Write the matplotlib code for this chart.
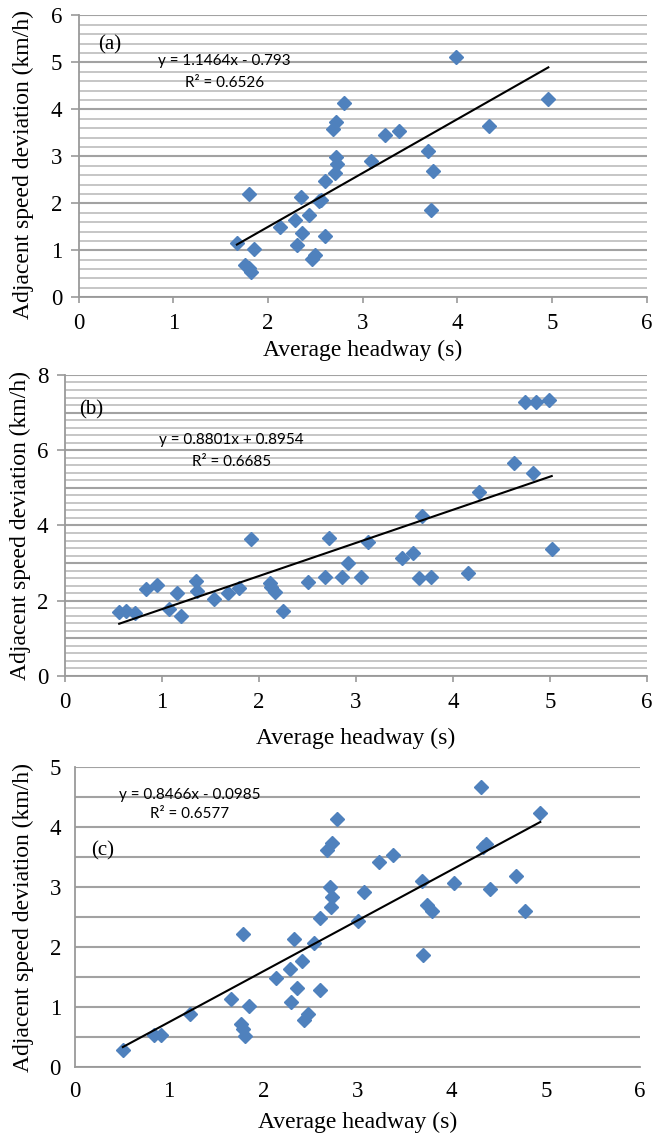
import matplotlib.pyplot as plt
import numpy as np

# panel (a)
a_x = [3.98, 4.96, 2.80, 2.72, 2.69, 4.33, 3.23, 3.38, 3.69, 2.72, 2.73, 2.71, 3.09, 3.74, 2.60, 1.80, 2.35,
       2.54, 2.56, 3.72, 2.43, 2.28, 2.13, 2.36, 2.60, 2.31, 1.67, 1.85, 2.50, 2.46, 1.76, 1.80, 1.82]
a_y = [5.11, 4.21, 4.14, 3.73, 3.59, 3.65, 3.45, 3.54, 3.11, 2.99, 2.83, 2.65, 2.90, 2.68, 2.47, 2.19, 2.14,
       2.04, 2.08, 1.86, 1.75, 1.64, 1.49, 1.36, 1.31, 1.11, 1.15, 1.02, 0.90, 0.81, 0.69, 0.62, 0.53]
a_fit = (1.1464, -0.793)
a_eq = ['y = 1.1464x - 0.793', 'R² = 0.6526']

# panel (b)
b_x = [4.74, 4.86, 4.99, 4.63, 4.83, 4.27, 3.68, 5.02, 3.59, 3.48, 3.13, 2.72, 1.92, 2.92, 3.05, 2.86, 2.68,
       3.65, 3.77, 4.16, 2.51, 2.11, 2.13, 2.17, 2.25, 1.80, 1.68, 1.54, 1.35, 1.36, 1.16, 1.20, 1.07, 0.95,
       0.84, 0.56, 0.63, 0.72]
b_y = [7.27, 7.27, 7.33, 5.67, 5.39, 4.88, 4.26, 3.37, 3.28, 3.13, 3.57, 3.66, 3.63, 2.99, 2.64, 2.64, 2.64,
       2.60, 2.62, 2.73, 2.51, 2.46, 2.37, 2.24, 1.73, 2.33, 2.20, 2.04, 2.53, 2.27, 2.21, 1.59, 1.77, 2.42,
       2.31, 1.71, 1.73, 1.68]
b_fit = (0.8801, 0.8954)
b_eq = ['y = 0.8801x + 0.8954', 'R² = 0.6685']

# panel (c)
c_x = [4.31, 4.94, 2.78, 2.73, 2.68, 4.33, 4.36, 3.23, 3.38, 3.68, 2.71, 2.73, 2.72, 3.07, 3.74, 3.79, 2.60,
       1.79, 2.33, 2.54, 3.70, 2.41, 2.28, 2.13, 2.36, 2.60, 2.29, 1.66, 1.85, 2.48, 2.43, 1.76, 1.79, 1.81,
       0.51, 0.84, 0.92, 1.22, 3.01, 4.02, 4.68, 4.41, 4.78]
c_y = [4.67, 4.23, 4.14, 3.74, 3.61, 3.66, 3.71, 3.42, 3.53, 3.10, 3.00, 2.84, 2.66, 2.92, 2.70, 2.60, 2.49,
       2.22, 2.14, 2.07, 1.86, 1.76, 1.64, 1.49, 1.32, 1.29, 1.09, 1.13, 1.01, 0.89, 0.79, 0.71, 0.63, 0.52,
       0.29, 0.53, 0.54, 0.89, 2.43, 3.07, 3.18, 2.96, 2.60]
c_fit = (0.8466, -0.0985)
c_eq = ['y = 0.8466x - 0.0985', 'R² = 0.6577']

xlabel = 'Average headway (s)'
ylabel = 'Adjacent speed deviation (km/h)'

serif = 'Liberation Serif'
sans = ['Lato', 'DejaVu Sans']
blue = '#4F81BD'

fig = plt.figure(figsize=(6.62, 11.39), dpi=100)


def panel(rect, xs, ys, fit, eq, tag, ymax, ystep, grid_major, grid_minor,
          eq_pos, tag_pos, ylab_xy, xlab_pad, ticks=True):
    ax = fig.add_axes(rect)
    ax.set_xlim(0, 6)
    ax.set_ylim(0, ymax)
    ax.set_xticks(range(0, 7))
    ax.set_yticks(np.arange(0, ymax + 0.01, ystep))
    # grid lines, minor first then the darker major ones
    if grid_minor:
        for v in np.arange(0, ymax + 0.01, grid_minor):
            ax.axhline(v, color='#c6c6c6', lw=1.4, zorder=0)
    for v in np.arange(0, ymax + 0.01, grid_major):
        ax.axhline(v, color='#a2a2a2', lw=1.5, zorder=0)
    for s in ['top', 'right']:
        ax.spines[s].set_visible(False)
    for s in ['left', 'bottom']:
        ax.spines[s].set_color('#9a9a9a')
        ax.spines[s].set_linewidth(1.3)
    if ticks:
        ax.tick_params(axis='x', length=4.5, width=1.2, color='#9a9a9a', pad=7)
        ax.tick_params(axis='y', length=6, width=1.2, color='#9a9a9a', pad=6)
    else:
        ax.tick_params(length=0, pad=10)
    for lab in ax.get_xticklabels() + ax.get_yticklabels():
        lab.set_fontfamily(serif)
        lab.set_fontsize(16.5)

    ax.plot(xs, ys, 'D', color=blue, ms=7, mec=blue, zorder=3)
    xx = np.array([min(xs), max(xs)])
    ax.plot(xx, fit[0] * xx + fit[1], color='black', lw=1.5, zorder=4)

    ax.text(eq_pos[0], eq_pos[1], eq[0], family=sans, fontsize=11, ha='center', va='center')
    ax.text(eq_pos[0], eq_pos[2], eq[1], family=sans, fontsize=11, ha='center', va='center')
    ax.text(tag_pos[0], tag_pos[1], tag, family=serif, fontsize=15, ha='center', va='center')

    ax.set_xlabel(xlabel, family=serif, fontsize=17, labelpad=xlab_pad)
    ax.set_ylabel(ylabel, family=serif, fontsize=17)
    ax.yaxis.set_label_coords(*ylab_xy)
    return ax


panel([0.119, 0.739, 0.858, 0.2475], a_x, a_y, a_fit, a_eq, '(a)', 6, 1, 1, 0.2,
      (1.54, 5.02, 4.57), (0.33, 5.38), (-0.078, 0.47), 4)
panel([0.098, 0.4065, 0.879, 0.2643], b_x, b_y, b_fit, b_eq, '(b)', 8, 2, 1, 0.2,
      (1.72, 6.27, 5.7), (0.27, 7.07), (-0.058, 0.5), 11)
panel([0.113, 0.0632, 0.854, 0.2634], c_x, c_y, c_fit, c_eq, '(c)', 5, 1, 0.5, None,
      (1.22, 4.54, 4.21), (0.3, 3.6), (-0.072, 0.5), 7, ticks=False)

plt.savefig('out.png', dpi=100)
